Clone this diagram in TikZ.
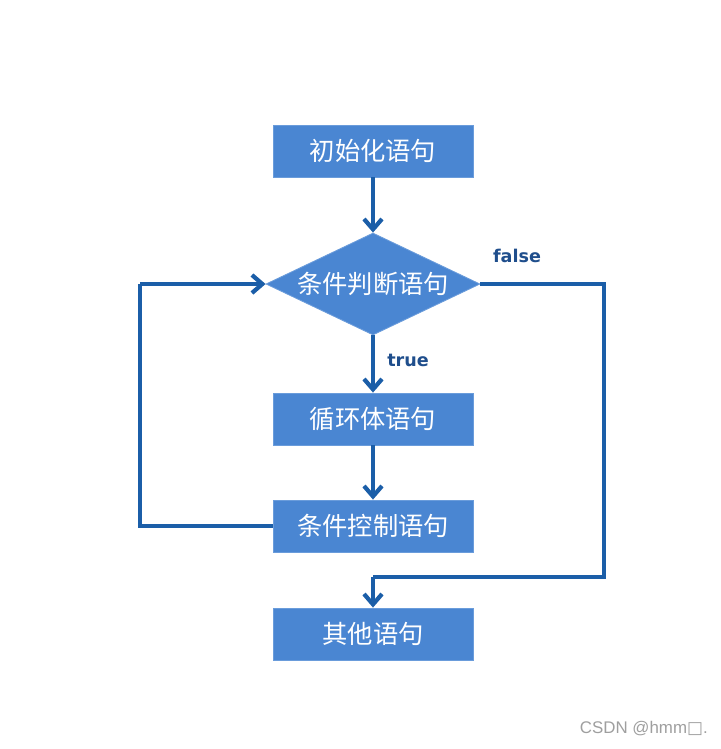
\documentclass[tikz,border=0pt]{standalone}
\usepackage{fontspec}
\setmainfont{DejaVu Sans}
\newfontfamily\cjk{Noto Sans CJK SC}
\newfontfamily\wmfont{Liberation Sans}
\newfontfamily\boxfont{DejaVu Sans}
\usetikzlibrary{shapes.geometric,arrows.meta}

\definecolor{boxblue}{HTML}{4A86D2}
\definecolor{boxedge}{HTML}{6A9CDB}
\definecolor{lineblue}{HTML}{1B5EA8}
\definecolor{labelblue}{HTML}{1F4E8C}

\tikzset{
    stmt/.style={rectangle, fill=boxblue, draw=boxedge, line width=0.6pt,
        minimum width=5cm, minimum height=1.3cm, inner sep=0pt,
        text=white, font=\cjk\fontsize{18}{20}\selectfont},
    cond/.style={diamond, aspect=2, fill=boxblue, draw=boxedge, line width=0.6pt,
        minimum width=5.35cm, minimum height=2.55cm, inner sep=0pt,
        text=white, font=\cjk\fontsize{18}{20}\selectfont},
    flow/.style={draw=lineblue, line width=3pt,
        -{Straight Barb[length=0.26cm, width=0.45cm, line width=3pt]}},
    link/.style={draw=lineblue, line width=3pt},
    tag/.style={text=labelblue, font=\bfseries\fontsize{12.5}{14}\selectfont}
}

\begin{document}
\begin{tikzpicture}
    \useasboundingbox[fill=white] (0,0) rectangle (18,-18.725);

    % Blocks
    \node[stmt] (init) at (9.325,-3.775) {初始化语句};
    \node[cond] (check) at (9.325,-7.1) {条件判断语句};
    \node[stmt] (body) at (9.325,-10.475) {循环体语句};
    \node[stmt] (ctrl) at (9.325,-13.15) {条件控制语句};
    \node[stmt] (other) at (9.325,-15.85) {其他语句};

    % Bends
    \coordinate (backcorner) at (3.5,-13.15);
    \coordinate (backtop) at (3.5,-7.1);
    \coordinate (falsecorner) at (15.1,-7.1);
    \coordinate (falselow) at (15.1,-14.425);
    \coordinate (falsedrop) at (9.325,-14.425);

    % Main flow
    \draw[flow] (init) -- (check);
    \draw[flow] (check) -- (body);
    \draw[flow] (body) -- (ctrl);

    % Back to the condition
    \draw[link] (ctrl.west) -- (backcorner) -- (backtop);
    \draw[flow] (backtop) -- (check.west);

    % Exit
    \draw[link] (check.east) -- (falsecorner) -- (falselow) -- (falsedrop);
    \draw[flow] (falsedrop) -- (other);

    % Labels
    \node[tag] (falsetag) at (12.925,-6.4) {false};
    \node[tag] (truetag) at (10.2,-9.0) {true};

    % Watermark
    \node[anchor=east, inner sep=0pt, text=gray!75, font=\wmfont\fontsize{12}{14}\selectfont] (mark) at (17.7,-18.225) {CSDN @hmm{\boxfont □}.};
\end{tikzpicture}
\end{document}
